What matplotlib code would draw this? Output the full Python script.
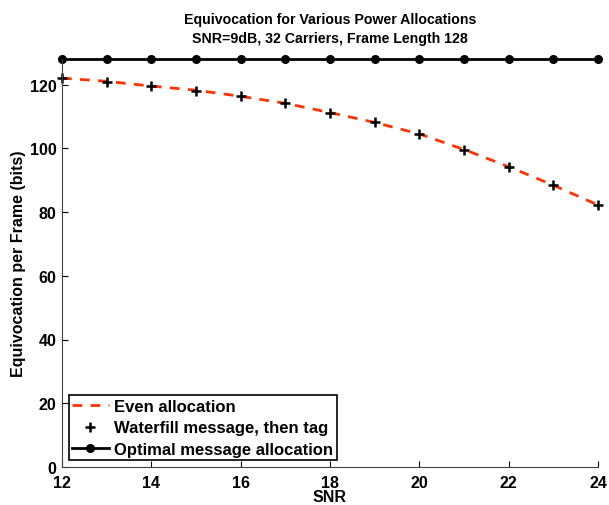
import numpy as np
import matplotlib.pyplot as plt

plt.rcParams['font.family'] = ['Liberation Sans', 'DejaVu Sans']
plt.rcParams['font.weight'] = 'bold'

snr = [12, 13, 14, 15, 16, 17, 18, 19, 20, 21, 22, 23, 24]
even = [122.0, 121.0, 119.5, 118.2, 116.3, 114.1, 111.2, 108.1, 104.5, 99.6, 94.2, 88.4, 82.2]
waterfill = [122.0, 120.9, 119.5, 118.1, 116.3, 114.1, 111.2, 108.1, 104.5, 99.6, 94.2, 88.4, 82.2]
optimal = [128] * 13

fig = plt.figure(figsize=(6.09, 5.06), dpi=100)
# axes box in pixels: x 62..598, y 60..468
ax = fig.add_axes([62 / 609, (506 - 468) / 506, 536 / 609, 408 / 506])

ax.plot(snr, even, '--', color='#ff3300', lw=2, dashes=(3.5, 3), label='Even allocation', clip_on=False)
ax.plot(snr, waterfill, '+', color='black', ms=7, mew=1.8, label='Waterfill message, then tag', clip_on=False)
ax.plot(snr, optimal, '-o', color='black', lw=2, ms=5.5, label='Optimal message allocation', clip_on=False)

ax.set_xlim(12, 24)
ax.set_ylim(0, 128)
ax.set_xticks([12, 14, 16, 18, 20, 22, 24])
ax.set_yticks([0, 20, 40, 60, 80, 100, 120])
ax.tick_params(direction='in', labelsize=11.5, top=False, right=False, length=4)
ax.tick_params(axis='x', pad=6)
ax.tick_params(axis='y', pad=4)
for lab in ax.get_xticklabels() + ax.get_yticklabels():
    lab.set_fontweight('bold')
ax.spines['top'].set_visible(False)
ax.spines['right'].set_visible(False)
ax.spines['left'].set_color('#444444')
ax.spines['bottom'].set_color('#444444')

ax.set_xlabel('SNR', fontsize=11.5, fontweight='bold', labelpad=-1)
ax.set_ylabel('Equivocation per Frame (bits)', fontsize=11.5, fontweight='bold', labelpad=3)
ax.set_title('Equivocation for Various Power Allocations\nSNR=9dB, 32 Carriers, Frame Length 128',
             fontsize=10.2, fontweight='bold', pad=12, linespacing=1.45)

leg = ax.legend(loc='lower left', fontsize=12, fancybox=False, framealpha=1,
                edgecolor='black', borderpad=0.2, labelspacing=0.4, handlelength=2.2,
                handletextpad=0.35, borderaxespad=0.4)
leg.get_frame().set_linewidth(1.2)
for t in leg.get_texts():
    t.set_fontweight('bold')

fig.savefig('out.png', dpi=100)
